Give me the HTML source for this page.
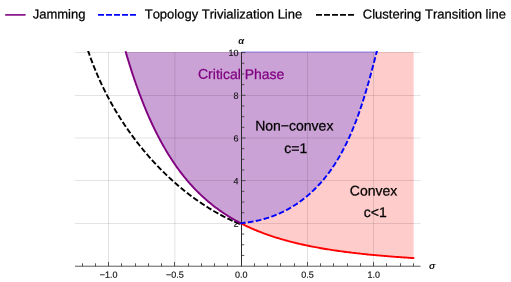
<!DOCTYPE html>
<html><head><meta charset="utf-8"><title>Phase diagram</title>
<style>html,body{margin:0;padding:0;background:#fff;}body{width:511px;height:282px;position:relative;overflow:hidden;font-family:"Liberation Sans",sans-serif;}</style></head>
<body>
<svg width="511" height="282" viewBox="0 0 511 282" style="position:absolute;left:0;top:0;will-change:transform;font-kerning:none">
<rect width="511" height="282" fill="#fff"/>
<clipPath id="cf"><rect x="70" y="52" width="360" height="220"/></clipPath>
<g clip-path="url(#cf)"><path d="M241.10 52.00 L413.65 52.00 L413.65 258.07 L412.82 258.02 L411.37 257.93 L409.91 257.83 L408.46 257.74 L407.00 257.65 L405.55 257.55 L404.09 257.45 L402.64 257.35 L401.18 257.25 L399.72 257.15 L398.27 257.04 L396.81 256.94 L395.36 256.83 L393.90 256.72 L392.45 256.61 L390.99 256.50 L389.54 256.38 L388.08 256.27 L386.63 256.15 L385.17 256.03 L383.72 255.91 L382.26 255.79 L380.81 255.66 L379.35 255.53 L377.90 255.40 L376.44 255.27 L374.99 255.14 L373.53 255.00 L372.07 254.86 L370.62 254.72 L369.16 254.58 L367.71 254.43 L366.25 254.29 L364.80 254.14 L363.34 253.98 L361.89 253.83 L360.43 253.67 L358.98 253.51 L357.52 253.35 L356.07 253.18 L354.61 253.01 L353.16 252.84 L351.70 252.67 L350.25 252.49 L348.79 252.31 L347.33 252.12 L345.88 251.94 L344.42 251.75 L342.97 251.55 L341.51 251.36 L340.06 251.16 L338.60 250.95 L337.15 250.75 L335.69 250.53 L334.24 250.32 L332.78 250.10 L331.33 249.88 L329.87 249.65 L328.42 249.42 L326.96 249.19 L325.51 248.95 L324.05 248.71 L322.60 248.46 L321.14 248.21 L319.68 247.95 L318.23 247.69 L316.77 247.42 L315.32 247.15 L313.86 246.88 L312.41 246.60 L310.95 246.31 L309.50 246.02 L308.04 245.72 L306.59 245.42 L305.13 245.11 L303.68 244.80 L302.22 244.48 L300.77 244.15 L299.31 243.82 L297.86 243.48 L296.40 243.14 L294.95 242.78 L293.49 242.43 L292.03 242.06 L290.58 241.69 L289.12 241.31 L287.67 240.92 L286.21 240.53 L284.76 240.12 L283.30 239.71 L281.85 239.30 L280.39 238.87 L278.94 238.43 L277.48 237.99 L276.03 237.54 L274.57 237.08 L273.12 236.61 L271.66 236.12 L270.21 235.63 L268.75 235.13 L267.29 234.62 L265.84 234.10 L264.38 233.57 L262.93 233.03 L261.47 232.48 L260.02 231.91 L258.56 231.34 L257.11 230.75 L255.65 230.15 L254.20 229.53 L252.74 228.91 L251.29 228.27 L249.83 227.62 L248.38 226.95 L246.92 226.27 L245.47 225.58 L244.01 224.87 L242.56 224.14 L241.10 223.40 Z" fill="#ffcccc"/>
<path d="M125.54 51.32 L126.51 54.64 L127.48 57.89 L128.45 61.09 L129.42 64.24 L130.39 67.33 L131.36 70.36 L132.33 73.34 L133.30 76.27 L134.28 79.15 L135.25 81.98 L136.22 84.76 L137.19 87.49 L138.16 90.17 L139.13 92.81 L140.10 95.40 L141.07 97.95 L142.04 100.45 L143.02 102.91 L143.99 105.33 L144.96 107.71 L145.93 110.04 L146.90 112.34 L147.87 114.59 L148.84 116.81 L149.81 119.00 L150.78 121.14 L151.76 123.25 L152.73 125.32 L153.70 127.36 L154.67 129.36 L155.64 131.33 L156.61 133.27 L157.58 135.18 L158.55 137.05 L159.53 138.89 L160.50 140.70 L161.47 142.48 L162.44 144.24 L163.41 145.96 L164.38 147.65 L165.35 149.32 L166.32 150.96 L167.29 152.57 L168.27 154.16 L169.24 155.72 L170.21 157.26 L171.18 158.77 L172.15 160.25 L173.12 161.71 L174.09 163.15 L175.06 164.57 L176.03 165.96 L177.01 167.33 L177.98 168.68 L178.95 170.00 L179.92 171.31 L180.89 172.59 L181.86 173.86 L182.83 175.10 L183.80 176.32 L184.77 177.53 L185.75 178.72 L186.72 179.88 L187.69 181.03 L188.66 182.16 L189.63 183.27 L190.60 184.37 L191.57 185.45 L192.54 186.51 L193.51 187.56 L194.49 188.58 L195.46 189.60 L196.43 190.59 L197.40 191.58 L198.37 192.54 L199.34 193.50 L200.31 194.43 L201.28 195.36 L202.25 196.27 L203.23 197.16 L204.20 198.04 L205.17 198.91 L206.14 199.76 L207.11 200.61 L208.08 201.44 L209.05 202.25 L210.02 203.06 L210.99 203.85 L211.97 204.63 L212.94 205.40 L213.91 206.16 L214.88 206.90 L215.85 207.64 L216.82 208.36 L217.79 209.08 L218.76 209.78 L219.74 210.47 L220.71 211.15 L221.68 211.82 L222.65 212.49 L223.62 213.14 L224.59 213.78 L225.56 214.42 L226.53 215.04 L227.50 215.66 L228.48 216.26 L229.45 216.86 L230.42 217.45 L231.39 218.03 L232.36 218.60 L233.33 219.17 L234.30 219.72 L235.27 220.27 L236.24 220.81 L237.22 221.34 L238.19 221.87 L239.16 222.39 L240.13 222.90 L241.10 223.40 L243.06 222.91 L244.15 222.80 L245.24 222.68 L246.31 222.56 L247.39 222.42 L248.46 222.28 L249.52 222.12 L250.58 221.96 L251.64 221.79 L252.69 221.61 L253.74 221.42 L254.78 221.22 L255.82 221.01 L256.85 220.79 L257.88 220.57 L258.90 220.34 L259.92 220.09 L260.93 219.84 L261.94 219.58 L262.95 219.31 L263.95 219.04 L264.94 218.75 L265.93 218.46 L266.92 218.16 L267.90 217.85 L268.87 217.53 L269.85 217.21 L270.81 216.87 L271.77 216.53 L272.73 216.18 L273.68 215.83 L274.63 215.46 L275.57 215.09 L276.51 214.71 L277.44 214.32 L278.37 213.92 L279.29 213.52 L280.21 213.11 L281.12 212.69 L282.03 212.26 L282.93 211.83 L283.83 211.39 L284.72 210.94 L285.61 210.48 L286.49 210.02 L287.37 209.55 L288.24 209.07 L289.11 208.59 L289.97 208.10 L290.83 207.60 L291.68 207.10 L292.53 206.58 L293.37 206.06 L294.21 205.54 L295.04 205.01 L295.87 204.47 L296.69 203.92 L297.51 203.37 L298.32 202.81 L299.12 202.25 L299.92 201.68 L300.72 201.10 L301.51 200.52 L302.30 199.93 L303.08 199.33 L303.85 198.73 L304.62 198.12 L305.39 197.50 L306.15 196.88 L306.90 196.26 L307.65 195.62 L308.39 194.99 L309.13 194.34 L309.86 193.69 L310.59 193.04 L311.32 192.38 L312.04 191.71 L312.75 191.04 L313.46 190.36 L314.16 189.67 L314.86 188.99 L315.55 188.29 L316.24 187.59 L316.92 186.89 L317.60 186.18 L318.27 185.46 L318.94 184.74 L319.61 184.02 L320.26 183.29 L320.92 182.55 L321.57 181.81 L322.21 181.07 L322.85 180.32 L323.48 179.56 L324.11 178.81 L324.74 178.04 L325.36 177.27 L325.97 176.50 L326.58 175.72 L327.19 174.94 L327.79 174.16 L328.39 173.37 L328.98 172.57 L329.56 171.77 L330.15 170.97 L330.72 170.16 L331.30 169.35 L331.86 168.53 L332.43 167.71 L332.99 166.89 L333.54 166.06 L334.09 165.23 L334.63 164.40 L335.18 163.56 L335.71 162.72 L336.24 161.87 L336.77 161.02 L337.29 160.17 L337.81 159.31 L338.32 158.45 L338.83 157.59 L339.34 156.72 L339.84 155.85 L340.34 154.97 L340.83 154.10 L341.32 153.22 L341.80 152.34 L342.28 151.45 L342.76 150.56 L343.23 149.67 L343.70 148.77 L344.17 147.88 L344.63 146.98 L345.08 146.07 L345.54 145.17 L345.99 144.26 L346.43 143.35 L346.87 142.43 L347.31 141.52 L347.74 140.60 L348.17 139.68 L348.60 138.75 L349.03 137.83 L349.45 136.90 L349.86 135.97 L350.28 135.04 L350.68 134.10 L351.09 133.17 L351.49 132.23 L351.89 131.29 L352.29 130.34 L352.68 129.40 L353.07 128.45 L353.46 127.51 L353.84 126.56 L354.22 125.61 L354.60 124.65 L354.97 123.70 L355.35 122.74 L355.71 121.79 L356.08 120.83 L356.44 119.87 L356.80 118.91 L357.16 117.94 L357.51 116.98 L357.86 116.02 L358.21 115.05 L358.56 114.08 L358.90 113.12 L359.24 112.15 L359.58 111.18 L359.91 110.21 L360.25 109.23 L360.58 108.26 L360.90 107.29 L361.23 106.32 L361.55 105.34 L361.87 104.37 L362.19 103.39 L362.51 102.42 L362.82 101.44 L363.13 100.46 L363.44 99.49 L363.75 98.51 L364.05 97.53 L364.36 96.56 L364.66 95.58 L364.96 94.60 L365.25 93.62 L365.55 92.65 L365.84 91.67 L366.13 90.69 L366.42 89.72 L366.71 88.74 L366.99 87.76 L367.28 86.79 L367.56 85.81 L367.84 84.84 L368.12 83.86 L368.40 82.89 L368.67 81.91 L368.95 80.94 L369.22 79.97 L369.49 79.00 L369.76 78.03 L370.03 77.06 L370.29 76.09 L370.56 75.12 L370.82 74.16 L371.09 73.19 L371.35 72.23 L371.61 71.26 L371.87 70.30 L372.13 69.34 L372.38 68.38 L372.64 67.42 L372.89 66.46 L373.15 65.51 L373.40 64.55 L373.65 63.60 L373.91 62.65 L374.16 61.70 L374.41 60.75 L374.65 59.81 L374.90 58.86 L375.15 57.92 L375.40 56.98 L375.64 56.04 L375.89 55.11 L376.13 54.17 L376.38 53.24 L376.62 52.31 L376.86 51.38 L377.11 50.46 L377.35 49.54 Z" fill="#cba2d6"/></g>
<path d="M108.50 52.00 V266.10 M174.90 52.00 V266.10 M307.50 52.00 V266.10 M373.50 52.00 V266.10 M75.00 95.50 H420.50 M75.00 138.00 H420.50 M75.00 180.50 H420.50 M75.00 223.50 H420.50" stroke="#000" stroke-opacity="0.11" stroke-width="1" fill="none"/>
<path d="M75.00 52.45 H420.50" stroke="#000" stroke-opacity="0.11" stroke-width="1" fill="none"/>
<path d="M241.5 51.7 H377.05" stroke="#0000ff" stroke-opacity="0.22" stroke-width="1.4" fill="none"/>
<path d="M241.5 52.00 V266.6" stroke="#2a2a2a" stroke-width="1" fill="none"/>
<path d="M75.00 266.22 H420.50" stroke="#4a4a4a" stroke-width="0.9" fill="none"/>
<path d="M82.5 266.3 v-3.00 M95.5 266.3 v-3.00 M108.5 266.3 v-4.40 M121.5 266.3 v-3.00 M135.5 266.3 v-3.00 M148.5 266.3 v-3.00 M161.5 266.3 v-3.00 M174.5 266.3 v-4.40 M188.5 266.3 v-3.00 M201.5 266.3 v-3.00 M214.5 266.3 v-3.00 M227.5 266.3 v-3.00 M241.5 266.3 v-4.40 M254.5 266.3 v-3.00 M267.5 266.3 v-3.00 M280.5 266.3 v-3.00 M294.5 266.3 v-3.00 M307.5 266.3 v-4.40 M320.5 266.3 v-3.00 M333.5 266.3 v-3.00 M347.5 266.3 v-3.00 M360.5 266.3 v-3.00 M373.5 266.3 v-4.40 M386.5 266.3 v-3.00 M400.5 266.3 v-3.00 M413.5 266.3 v-3.00 M241.5 255.43 h2.80 M241.5 244.75 h2.80 M241.5 234.08 h2.80 M241.5 223.40 h4.00 M241.5 212.73 h2.80 M241.5 202.05 h2.80 M241.5 191.38 h2.80 M241.5 180.70 h4.00 M241.5 170.03 h2.80 M241.5 159.35 h2.80 M241.5 148.68 h2.80 M241.5 138.00 h4.00 M241.5 127.33 h2.80 M241.5 116.65 h2.80 M241.5 105.98 h2.80 M241.5 95.30 h4.00 M241.5 84.62 h2.80 M241.5 73.95 h2.80 M241.5 63.28 h2.80 M241.5 52.60 h4.00" stroke="#3a3a3a" stroke-width="0.85" fill="none"/>
<g font-family="Liberation Sans, sans-serif" font-size="9" fill="#111" stroke="#111" stroke-width="0.15">
<text x="108.70" y="277.70" transform="rotate(0.03 108.70 277.70)" text-anchor="middle">−1.0</text>
<text x="174.95" y="277.70" transform="rotate(0.03 174.95 277.70)" text-anchor="middle">−0.5</text>
<text x="241.20" y="277.70" transform="rotate(0.03 241.20 277.70)" text-anchor="middle">0.0</text>
<text x="307.45" y="277.70" transform="rotate(0.03 307.45 277.70)" text-anchor="middle">0.5</text>
<text x="373.70" y="277.70" transform="rotate(0.03 373.70 277.70)" text-anchor="middle">1.0</text>
<text x="238.40" y="226.85" transform="rotate(0.03 238.40 226.85)" text-anchor="end">2</text>
<text x="238.40" y="184.15" transform="rotate(0.03 238.40 184.15)" text-anchor="end">4</text>
<text x="238.40" y="141.45" transform="rotate(0.03 238.40 141.45)" text-anchor="end">6</text>
<text x="238.40" y="98.75" transform="rotate(0.03 238.40 98.75)" text-anchor="end">8</text>
<text x="238.40" y="56.05" transform="rotate(0.03 238.40 56.05)" text-anchor="end">10</text>
</g>
<g font-family="Liberation Sans, sans-serif" font-size="9.5" font-style="italic" font-weight="bold" fill="#111">
<text x="241.20" y="44.10" transform="rotate(0.03 241.20 44.10)" text-anchor="middle">α</text>
<text x="432.10" y="269.10" transform="rotate(0.03 432.10 269.10)" text-anchor="middle">σ</text>
</g>
<clipPath id="cc"><rect x="70" y="50.9" width="360" height="225"/></clipPath>
<g clip-path="url(#cc)">
<path d="M241.10 223.40 L242.56 224.14 L244.01 224.87 L245.47 225.58 L246.92 226.27 L248.38 226.95 L249.83 227.62 L251.29 228.27 L252.74 228.91 L254.20 229.53 L255.65 230.15 L257.11 230.75 L258.56 231.34 L260.02 231.91 L261.47 232.48 L262.93 233.03 L264.38 233.57 L265.84 234.10 L267.29 234.62 L268.75 235.13 L270.21 235.63 L271.66 236.12 L273.12 236.61 L274.57 237.08 L276.03 237.54 L277.48 237.99 L278.94 238.43 L280.39 238.87 L281.85 239.30 L283.30 239.71 L284.76 240.12 L286.21 240.53 L287.67 240.92 L289.12 241.31 L290.58 241.69 L292.03 242.06 L293.49 242.43 L294.95 242.78 L296.40 243.14 L297.86 243.48 L299.31 243.82 L300.77 244.15 L302.22 244.48 L303.68 244.80 L305.13 245.11 L306.59 245.42 L308.04 245.72 L309.50 246.02 L310.95 246.31 L312.41 246.60 L313.86 246.88 L315.32 247.15 L316.77 247.42 L318.23 247.69 L319.68 247.95 L321.14 248.21 L322.60 248.46 L324.05 248.71 L325.51 248.95 L326.96 249.19 L328.42 249.42 L329.87 249.65 L331.33 249.88 L332.78 250.10 L334.24 250.32 L335.69 250.53 L337.15 250.75 L338.60 250.95 L340.06 251.16 L341.51 251.36 L342.97 251.55 L344.42 251.75 L345.88 251.94 L347.33 252.12 L348.79 252.31 L350.25 252.49 L351.70 252.67 L353.16 252.84 L354.61 253.01 L356.07 253.18 L357.52 253.35 L358.98 253.51 L360.43 253.67 L361.89 253.83 L363.34 253.98 L364.80 254.14 L366.25 254.29 L367.71 254.43 L369.16 254.58 L370.62 254.72 L372.07 254.86 L373.53 255.00 L374.99 255.14 L376.44 255.27 L377.90 255.40 L379.35 255.53 L380.81 255.66 L382.26 255.79 L383.72 255.91 L385.17 256.03 L386.63 256.15 L388.08 256.27 L389.54 256.38 L390.99 256.50 L392.45 256.61 L393.90 256.72 L395.36 256.83 L396.81 256.94 L398.27 257.04 L399.72 257.15 L401.18 257.25 L402.64 257.35 L404.09 257.45 L405.55 257.55 L407.00 257.65 L408.46 257.74 L409.91 257.83 L411.37 257.93 L412.82 258.02 L414.28 258.11" stroke="#ff0000" stroke-width="1.9" fill="none"/>
<path d="M87.90 50.20 L88.23 51.16 L88.55 52.12 L88.88 53.07 L89.22 54.03 L89.55 54.99 L89.89 55.94 L90.23 56.89 L90.58 57.85 L90.93 58.80 L91.28 59.75 L91.63 60.69 L91.99 61.64 L92.35 62.59 L92.71 63.53 L93.08 64.48 L93.45 65.42 L93.82 66.36 L94.19 67.30 L94.57 68.24 L94.95 69.18 L95.34 70.12 L95.72 71.06 L96.12 71.99 L96.51 72.92 L96.91 73.86 L97.30 74.79 L97.71 75.72 L98.11 76.65 L98.52 77.57 L98.93 78.50 L99.35 79.43 L99.76 80.35 L100.19 81.27 L100.61 82.19 L101.04 83.11 L101.47 84.03 L101.90 84.95 L102.33 85.86 L102.77 86.78 L103.21 87.69 L103.66 88.60 L104.11 89.51 L104.56 90.42 L105.01 91.33 L105.47 92.24 L105.93 93.14 L106.39 94.04 L106.86 94.94 L107.32 95.85 L107.80 96.74 L108.27 97.64 L108.75 98.54 L109.23 99.43 L109.71 100.33 L110.20 101.22 L110.69 102.11 L111.18 103.00 L111.67 103.88 L112.17 104.77 L112.67 105.65 L113.18 106.53 L113.69 107.41 L114.20 108.29 L114.71 109.17 L115.22 110.05 L115.74 110.92 L116.26 111.79 L116.79 112.67 L117.32 113.54 L117.85 114.40 L118.38 115.27 L118.92 116.13 L119.46 117.00 L120.00 117.86 L120.54 118.72 L121.09 119.58 L121.64 120.43 L122.20 121.29 L122.75 122.14 L123.31 122.99 L123.87 123.84 L124.44 124.69 L125.01 125.53 L125.58 126.38 L126.15 127.22 L126.73 128.06 L127.31 128.90 L127.89 129.73 L128.47 130.57 L129.06 131.40 L129.65 132.23 L130.25 133.06 L130.84 133.89 L131.44 134.72 L132.04 135.54 L132.65 136.36 L133.26 137.18 L133.87 138.00 L134.48 138.82 L135.09 139.63 L135.71 140.44 L136.33 141.25 L136.96 142.06 L137.59 142.87 L138.21 143.67 L138.85 144.48 L139.48 145.28 L140.12 146.07 L140.76 146.87 L141.40 147.67 L142.05 148.46 L142.70 149.25 L143.35 150.04 L144.00 150.82 L144.66 151.61 L145.32 152.39 L145.98 153.17 L146.65 153.95 L147.31 154.72 L147.98 155.50 L148.66 156.27 L149.33 157.04 L150.01 157.81 L150.69 158.57 L151.37 159.34 L152.06 160.10 L152.75 160.86 L153.44 161.61 L154.13 162.37 L154.83 163.12 L155.53 163.87 L156.23 164.62 L156.93 165.36 L157.64 166.10 L158.35 166.84 L159.06 167.58 L159.77 168.32 L160.49 169.05 L161.21 169.78 L161.93 170.51 L162.65 171.23 L163.38 171.95 L164.11 172.67 L164.84 173.39 L165.58 174.10 L166.31 174.82 L167.05 175.53 L167.80 176.23 L168.54 176.94 L169.29 177.64 L170.04 178.34 L170.79 179.03 L171.54 179.72 L172.30 180.41 L173.06 181.10 L173.82 181.78 L174.58 182.46 L175.35 183.14 L176.12 183.82 L176.89 184.49 L177.67 185.16 L178.44 185.82 L179.22 186.48 L180.00 187.14 L180.78 187.80 L181.57 188.45 L182.36 189.10 L183.15 189.75 L183.94 190.39 L184.74 191.03 L185.53 191.67 L186.33 192.30 L187.14 192.93 L187.94 193.56 L188.75 194.19 L189.56 194.81 L190.37 195.42 L191.18 196.04 L192.00 196.65 L192.82 197.25 L193.64 197.85 L194.46 198.45 L195.29 199.05 L196.12 199.64 L197.09 200.23 L197.92 200.81 L198.75 201.40 L199.58 201.97 L200.42 202.55 L201.25 203.12 L202.09 203.68 L202.93 204.25 L203.77 204.80 L204.62 205.36 L205.47 205.91 L206.32 206.46 L207.17 207.00 L208.02 207.54 L208.88 208.07 L209.74 208.60 L210.60 209.13 L211.46 209.66 L212.33 210.17 L213.20 210.69 L214.07 211.20 L214.94 211.71 L215.81 212.21 L216.69 212.71 L217.57 213.20 L218.45 213.69 L219.34 214.18 L220.22 214.66 L221.11 215.14 L222.00 215.61 L222.89 216.08 L223.79 216.54 L224.68 217.00 L225.58 217.46 L226.48 217.91 L227.39 218.36 L228.29 218.80 L229.20 219.23 L230.11 219.67 L231.02 220.10 L231.94 220.52 L232.85 220.94 L233.77 221.35 L234.69 221.76 L235.62 222.17 L236.54 222.57 L237.47 222.96 L238.40 223.36 L239.33 223.74 L241.10 223.40" stroke="#000" stroke-width="1.9" stroke-dasharray="5.7 2.3" fill="none"/>
<path d="M125.54 51.32 L126.51 54.64 L127.48 57.89 L128.45 61.09 L129.42 64.24 L130.39 67.33 L131.36 70.36 L132.33 73.34 L133.30 76.27 L134.28 79.15 L135.25 81.98 L136.22 84.76 L137.19 87.49 L138.16 90.17 L139.13 92.81 L140.10 95.40 L141.07 97.95 L142.04 100.45 L143.02 102.91 L143.99 105.33 L144.96 107.71 L145.93 110.04 L146.90 112.34 L147.87 114.59 L148.84 116.81 L149.81 119.00 L150.78 121.14 L151.76 123.25 L152.73 125.32 L153.70 127.36 L154.67 129.36 L155.64 131.33 L156.61 133.27 L157.58 135.18 L158.55 137.05 L159.53 138.89 L160.50 140.70 L161.47 142.48 L162.44 144.24 L163.41 145.96 L164.38 147.65 L165.35 149.32 L166.32 150.96 L167.29 152.57 L168.27 154.16 L169.24 155.72 L170.21 157.26 L171.18 158.77 L172.15 160.25 L173.12 161.71 L174.09 163.15 L175.06 164.57 L176.03 165.96 L177.01 167.33 L177.98 168.68 L178.95 170.00 L179.92 171.31 L180.89 172.59 L181.86 173.86 L182.83 175.10 L183.80 176.32 L184.77 177.53 L185.75 178.72 L186.72 179.88 L187.69 181.03 L188.66 182.16 L189.63 183.27 L190.60 184.37 L191.57 185.45 L192.54 186.51 L193.51 187.56 L194.49 188.58 L195.46 189.60 L196.43 190.59 L197.40 191.58 L198.37 192.54 L199.34 193.50 L200.31 194.43 L201.28 195.36 L202.25 196.27 L203.23 197.16 L204.20 198.04 L205.17 198.91 L206.14 199.76 L207.11 200.61 L208.08 201.44 L209.05 202.25 L210.02 203.06 L210.99 203.85 L211.97 204.63 L212.94 205.40 L213.91 206.16 L214.88 206.90 L215.85 207.64 L216.82 208.36 L217.79 209.08 L218.76 209.78 L219.74 210.47 L220.71 211.15 L221.68 211.82 L222.65 212.49 L223.62 213.14 L224.59 213.78 L225.56 214.42 L226.53 215.04 L227.50 215.66 L228.48 216.26 L229.45 216.86 L230.42 217.45 L231.39 218.03 L232.36 218.60 L233.33 219.17 L234.30 219.72 L235.27 220.27 L236.24 220.81 L237.22 221.34 L238.19 221.87 L239.16 222.39 L240.13 222.90 L241.10 223.40" stroke="#800080" stroke-width="1.9" fill="none"/>
<path d="M240.40 223.52 L241.10 223.40 L243.06 222.91 L244.15 222.80 L245.24 222.68 L246.31 222.56 L247.39 222.42 L248.46 222.28 L249.52 222.12 L250.58 221.96 L251.64 221.79 L252.69 221.61 L253.74 221.42 L254.78 221.22 L255.82 221.01 L256.85 220.79 L257.88 220.57 L258.90 220.34 L259.92 220.09 L260.93 219.84 L261.94 219.58 L262.95 219.31 L263.95 219.04 L264.94 218.75 L265.93 218.46 L266.92 218.16 L267.90 217.85 L268.87 217.53 L269.85 217.21 L270.81 216.87 L271.77 216.53 L272.73 216.18 L273.68 215.83 L274.63 215.46 L275.57 215.09 L276.51 214.71 L277.44 214.32 L278.37 213.92 L279.29 213.52 L280.21 213.11 L281.12 212.69 L282.03 212.26 L282.93 211.83 L283.83 211.39 L284.72 210.94 L285.61 210.48 L286.49 210.02 L287.37 209.55 L288.24 209.07 L289.11 208.59 L289.97 208.10 L290.83 207.60 L291.68 207.10 L292.53 206.58 L293.37 206.06 L294.21 205.54 L295.04 205.01 L295.87 204.47 L296.69 203.92 L297.51 203.37 L298.32 202.81 L299.12 202.25 L299.92 201.68 L300.72 201.10 L301.51 200.52 L302.30 199.93 L303.08 199.33 L303.85 198.73 L304.62 198.12 L305.39 197.50 L306.15 196.88 L306.90 196.26 L307.65 195.62 L308.39 194.99 L309.13 194.34 L309.86 193.69 L310.59 193.04 L311.32 192.38 L312.04 191.71 L312.75 191.04 L313.46 190.36 L314.16 189.67 L314.86 188.99 L315.55 188.29 L316.24 187.59 L316.92 186.89 L317.60 186.18 L318.27 185.46 L318.94 184.74 L319.61 184.02 L320.26 183.29 L320.92 182.55 L321.57 181.81 L322.21 181.07 L322.85 180.32 L323.48 179.56 L324.11 178.81 L324.74 178.04 L325.36 177.27 L325.97 176.50 L326.58 175.72 L327.19 174.94 L327.79 174.16 L328.39 173.37 L328.98 172.57 L329.56 171.77 L330.15 170.97 L330.72 170.16 L331.30 169.35 L331.86 168.53 L332.43 167.71 L332.99 166.89 L333.54 166.06 L334.09 165.23 L334.63 164.40 L335.18 163.56 L335.71 162.72 L336.24 161.87 L336.77 161.02 L337.29 160.17 L337.81 159.31 L338.32 158.45 L338.83 157.59 L339.34 156.72 L339.84 155.85 L340.34 154.97 L340.83 154.10 L341.32 153.22 L341.80 152.34 L342.28 151.45 L342.76 150.56 L343.23 149.67 L343.70 148.77 L344.17 147.88 L344.63 146.98 L345.08 146.07 L345.54 145.17 L345.99 144.26 L346.43 143.35 L346.87 142.43 L347.31 141.52 L347.74 140.60 L348.17 139.68 L348.60 138.75 L349.03 137.83 L349.45 136.90 L349.86 135.97 L350.28 135.04 L350.68 134.10 L351.09 133.17 L351.49 132.23 L351.89 131.29 L352.29 130.34 L352.68 129.40 L353.07 128.45 L353.46 127.51 L353.84 126.56 L354.22 125.61 L354.60 124.65 L354.97 123.70 L355.35 122.74 L355.71 121.79 L356.08 120.83 L356.44 119.87 L356.80 118.91 L357.16 117.94 L357.51 116.98 L357.86 116.02 L358.21 115.05 L358.56 114.08 L358.90 113.12 L359.24 112.15 L359.58 111.18 L359.91 110.21 L360.25 109.23 L360.58 108.26 L360.90 107.29 L361.23 106.32 L361.55 105.34 L361.87 104.37 L362.19 103.39 L362.51 102.42 L362.82 101.44 L363.13 100.46 L363.44 99.49 L363.75 98.51 L364.05 97.53 L364.36 96.56 L364.66 95.58 L364.96 94.60 L365.25 93.62 L365.55 92.65 L365.84 91.67 L366.13 90.69 L366.42 89.72 L366.71 88.74 L366.99 87.76 L367.28 86.79 L367.56 85.81 L367.84 84.84 L368.12 83.86 L368.40 82.89 L368.67 81.91 L368.95 80.94 L369.22 79.97 L369.49 79.00 L369.76 78.03 L370.03 77.06 L370.29 76.09 L370.56 75.12 L370.82 74.16 L371.09 73.19 L371.35 72.23 L371.61 71.26 L371.87 70.30 L372.13 69.34 L372.38 68.38 L372.64 67.42 L372.89 66.46 L373.15 65.51 L373.40 64.55 L373.65 63.60 L373.91 62.65 L374.16 61.70 L374.41 60.75 L374.65 59.81 L374.90 58.86 L375.15 57.92 L375.40 56.98 L375.64 56.04 L375.89 55.11 L376.13 54.17 L376.38 53.24 L376.62 52.31 L376.86 51.38 L377.11 50.46 L377.35 49.54" stroke="#0000ff" stroke-width="1.9" stroke-dasharray="5.7 2.35" stroke-dashoffset="0.5" fill="none"/>
</g>
<g font-family="Liberation Sans, sans-serif" font-size="14" fill="#000" stroke="#000" stroke-width="0.25">
<text x="241.20" y="78.90" transform="rotate(0.03 241.20 78.90)" text-anchor="middle" fill="#800080" stroke="#800080">Critical Phase</text>
<text x="294.30" y="130.50" transform="rotate(0.03 294.30 130.50)" text-anchor="middle">Non−convex</text>
<text x="295.70" y="153.00" transform="rotate(0.03 295.70 153.00)" text-anchor="middle">c=1</text>
<text x="373.60" y="195.50" transform="rotate(0.03 373.60 195.50)" text-anchor="middle">Convex</text>
<text x="375.30" y="217.10" transform="rotate(0.03 375.30 217.10)" text-anchor="middle">c&lt;1</text>
</g>
<path d="M5.2 14.9 H25.6" stroke="#800080" stroke-width="1.6" fill="none"/>
<path d="M98 14.9 H136" stroke="#0000ff" stroke-width="1.6" stroke-dasharray="6 2" fill="none"/>
<path d="M316 14.9 H354" stroke="#000" stroke-width="1.6" stroke-dasharray="6 2" fill="none"/>
<g font-family="Liberation Sans, sans-serif" font-size="13" fill="#000" stroke="#000" stroke-width="0.25">
<text x="32.70" y="18.50" transform="rotate(0.03 32.70 18.50)">Jamming</text>
<text x="144.70" y="18.50" transform="rotate(0.03 144.70 18.50)">Topology Trivialization Line</text>
<text x="362.80" y="18.50" transform="rotate(0.03 362.80 18.50)">Clustering Transition line</text>
</g>
</svg>
</body></html>
